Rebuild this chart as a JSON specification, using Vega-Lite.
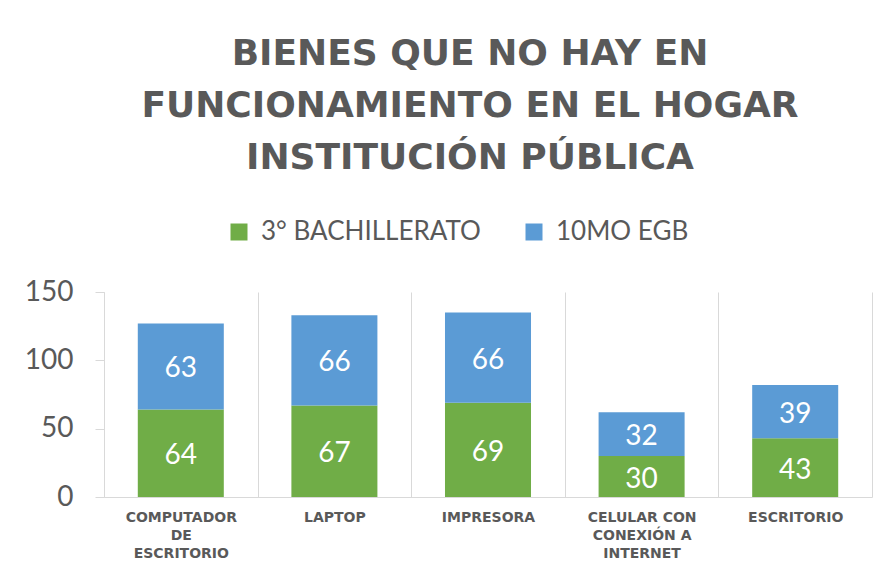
{
  "$schema": "https://vega.github.io/schema/vega-lite/v6.json",
  "width": 768,
  "height": 205,
  "autosize": {"type": "none"},
  "padding": {"left": 104, "top": 292, "right": 16, "bottom": 80},
  "background": "white",
  "title": {
    "text": ["BIENES QUE NO HAY EN", "FUNCIONAMIENTO EN EL HOGAR", "INSTITUCIÓN PÚBLICA"],
    "font": "DejaVu Sans",
    "fontSize": 36,
    "fontWeight": "bold",
    "color": "#595959",
    "lineHeight": 52,
    "anchor": "middle",
    "frame": "group",
    "dx": -18,
    "offset": 42
  },
  "data": {
    "values": [
      {"categoria": "COMPUTADOR DE ESCRITORIO", "grupo": "3° BACHILLERATO", "valor": 64},
      {"categoria": "COMPUTADOR DE ESCRITORIO", "grupo": "10MO EGB", "valor": 63},
      {"categoria": "LAPTOP", "grupo": "3° BACHILLERATO", "valor": 67},
      {"categoria": "LAPTOP", "grupo": "10MO EGB", "valor": 66},
      {"categoria": "IMPRESORA", "grupo": "3° BACHILLERATO", "valor": 69},
      {"categoria": "IMPRESORA", "grupo": "10MO EGB", "valor": 66},
      {"categoria": "CELULAR CON CONEXIÓN A INTERNET", "grupo": "3° BACHILLERATO", "valor": 30},
      {"categoria": "CELULAR CON CONEXIÓN A INTERNET", "grupo": "10MO EGB", "valor": 32},
      {"categoria": "ESCRITORIO", "grupo": "3° BACHILLERATO", "valor": 43},
      {"categoria": "ESCRITORIO", "grupo": "10MO EGB", "valor": 39}
    ]
  },
  "encoding": {
    "x": {
      "field": "categoria",
      "type": "nominal",
      "sort": null,
      "scale": {"paddingInner": 0, "paddingOuter": 0},
      "axis": {
        "title": null,
        "labelAngle": 0,
        "tickBand": "extent",
        "grid": true,
        "gridColor": "#d9d9d9",
        "gridWidth": 1,
        "ticks": false,
        "domainColor": "#d9d9d9",
        "domainWidth": 1,
        "labelFont": "DejaVu Sans",
        "labelFontSize": 14,
        "labelFontWeight": "bold",
        "labelColor": "#595959",
        "labelLineHeight": 18,
        "labelPadding": 13,
        "labelOverlap": false,
        "labelBound": false,
        "labelLimit": 300,
        "labelExpr": "datum.value == 'COMPUTADOR DE ESCRITORIO' ? ['COMPUTADOR', 'DE', 'ESCRITORIO'] : datum.value == 'CELULAR CON CONEXIÓN A INTERNET' ? ['CELULAR CON', 'CONEXIÓN A', 'INTERNET'] : datum.value"
      }
    }
  },
  "layer": [
    {
      "mark": {"type": "bar", "width": {"band": 0.56}},
      "encoding": {
        "y": {
          "field": "valor",
          "type": "quantitative",
          "stack": "zero",
          "scale": {"domain": [0, 150], "nice": false},
          "axis": {
            "title": null,
            "values": [0, 50, 100, 150],
            "grid": false,
            "domainColor": "#d9d9d9",
            "tickColor": "#d9d9d9",
            "tickSize": 9,
            "labelPadding": 22,
            "labelFont": "Lato",
            "labelFontSize": 28,
            "labelColor": "#595959"
          }
        },
        "color": {
          "field": "grupo",
          "type": "nominal",
          "scale": {"domain": ["3° BACHILLERATO", "10MO EGB"], "range": ["#70AD47", "#5B9BD5"]},
          "legend": {
            "title": null,
            "orient": "none",
            "legendX": 122,
            "legendY": -73,
            "direction": "horizontal",
            "symbolType": "square",
            "symbolSize": 289,
            "symbolStrokeWidth": 0,
            "labelFont": "Lato",
            "labelFontSize": 26,
            "labelColor": "#595959",
            "labelOffset": 9,
            "columnPadding": 40,
            "labelLimit": 400
          }
        },
        "order": {"field": "grupo", "sort": "descending"}
      }
    },
    {
      "mark": {"type": "text", "color": "white", "font": "Lato", "fontSize": 28, "baseline": "middle", "dy": 3},
      "encoding": {
        "y": {"field": "valor", "type": "quantitative", "stack": "zero", "bandPosition": 0.5, "scale": {"domain": [0, 150], "nice": false}},
        "text": {"field": "valor", "type": "quantitative"},
        "order": {"field": "grupo", "sort": "descending"}
      }
    }
  ],
  "config": {"view": {"stroke": null}}
}
